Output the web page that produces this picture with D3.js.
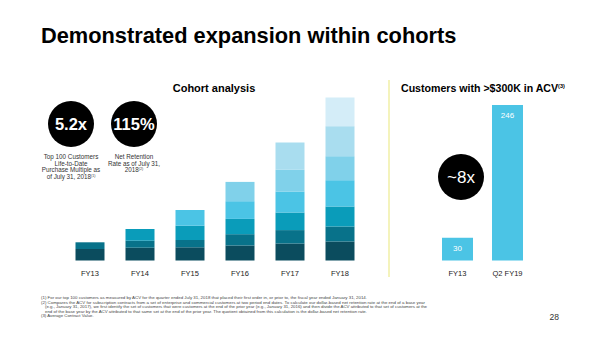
<!DOCTYPE html>
<html lang="en">
<head>
    <meta charset="UTF-8">
    <title>Demonstrated expansion within cohorts</title>
    <script src="https://d3js.org/d3.v7.min.js"></script>
    <style>
        body { margin: 0; background: #fff; }
        svg { font-family: "Liberation Sans", Arial, Helvetica, sans-serif; display: block; }
        .title { font-size: 21.8px; font-weight: bold; fill: #000; }
        .sub { font-size: 11px; font-weight: bold; fill: #000; }
        .tick-label { font-size: 7.5px; fill: #222; }
        .note { font-size: 6.3px; fill: #333; }
        .foot { font-size: 4.3px; fill: #444; }
    </style>
</head>
<body>
    <div id="chart"></div>
    <script>
        const width = 600, height = 337;

        // cohort analysis: one array per fiscal year bar, bottom layer first
        const cohortYears = ['FY13', 'FY14', 'FY15', 'FY16', 'FY17', 'FY18'];
        const fy13 = [11.5, 6.7];
        const fy14 = [12.8, 7, 11.7];
        const fy15 = [13.2, 7.3, 14.3, 15.7];
        const fy16 = [15, 11.3, 15.3, 17.7, 19.3];
        const fy17 = [17, 13.4, 17.6, 21, 21.7, 27.3];
        const fy18 = [19, 15, 20, 26.3, 24, 30, 28.7];
        const layerColors = ['#0b4c5e', '#08728a', '#0a9cba', '#4bc4e5', '#80d1ea', '#a9ddef', '#d4edf8'];

        // customers with >$300K ACV
        const acvPeriods = ['FY13', 'Q2 FY19'];
        const acvCustomers = [30, 246];

        const svg = d3.select('#chart').append('svg')
            .attr('width', width)
            .attr('height', height);

        svg.append('text')
            .attr('class', 'title')
            .attr('x', 41)
            .attr('y', 43)
            .text('Demonstrated expansion within cohorts');

        // ---- left: cohort analysis ----
        svg.append('text')
            .attr('class', 'sub')
            .attr('x', 214)
            .attr('y', 92)
            .attr('text-anchor', 'middle')
            .text('Cohort analysis');

        const x = d3.scaleBand()
            .domain(cohortYears)
            .range([65, 365])
            .paddingInner(0.42)
            .paddingOuter(0.21);

        const y = d3.scaleLinear()
            .domain([0, 163.5])
            .range([260.5, 97]);

        const cohortBars = [fy13, fy14, fy15, fy16, fy17, fy18];
        const cohortG = svg.append('g');
        cohortBars.forEach((vals, i) => {
            let acc = 0;
            vals.forEach((v, j) => {
                cohortG.append('rect')
                    .attr('x', x(cohortYears[i]))
                    .attr('width', x.bandwidth())
                    .attr('y', y(acc + v))
                    .attr('height', y(acc) - y(acc + v))
                    .attr('fill', layerColors[j]);
                acc += v;
            });
        });

        const xAxis = svg.append('g')
            .attr('transform', 'translate(0, 276)')
            .call(d3.axisBottom(x).tickSize(0).tickPadding(0));
        xAxis.select('.domain').remove();
        xAxis.selectAll('text').attr('class', 'tick-label').attr('font-family', null).attr('font-size', null).attr('dy', 0);

        // stat bubbles
        const bubbles = [
            { cx: 71, label: '5.2x', lines: ['Top 100 Customers', 'Life-to-Date', 'Purchase Multiple as', 'of July 31, 2018'], sup: '(1)' },
            { cx: 134, label: '115%', lines: ['Net Retention', 'Rate as of July 31,', '2018'], sup: '(2)' }
        ];
        bubbles.forEach(b => {
            svg.append('circle').attr('cx', b.cx).attr('cy', 124).attr('r', 23).attr('fill', '#000');
            svg.append('text')
                .attr('x', b.cx).attr('y', 130)
                .attr('text-anchor', 'middle')
                .attr('fill', '#fff')
                .attr('font-size', 16.5)
                .attr('font-weight', 'bold')
                .text(b.label);
            b.lines.forEach((l, k) => {
                const t = svg.append('text')
                    .attr('class', 'note')
                    .attr('x', b.cx).attr('y', 159 + k * 6.6)
                    .attr('text-anchor', 'middle')
                    .text(l);
                if (k === b.lines.length - 1) {
                    t.append('tspan').attr('font-size', 3.5).attr('dy', -2).text(b.sup);
                }
            });
        });

        // divider
        svg.append('line')
            .attr('x1', 389).attr('x2', 389)
            .attr('y1', 80).attr('y2', 277)
            .attr('stroke', '#f1efa6')
            .attr('stroke-width', 1.5);

        // ---- right: customers > $300K ----
        const subR = svg.append('text')
            .attr('class', 'sub')
            .attr('x', 401)
            .attr('y', 92)
            .attr('font-size', 10.6)
            .style('font-size', '10.6px')
            .text('Customers with >$300K in ACV');
        subR.append('tspan').attr('font-size', 5.5).style('font-size', '5.5px').attr('dy', -4).text('(3)');

        const x2 = d3.scaleBand()
            .domain(acvPeriods)
            .range([432.5, 532.5])
            .paddingInner(0.38)
            .paddingOuter(0.19);

        const y2 = d3.scaleLinear()
            .domain([-7, 246])
            .range([260.5, 105]);

        svg.append('g').selectAll('rect')
            .data(acvCustomers)
            .join('rect')
            .attr('x', (d, i) => x2(acvPeriods[i]))
            .attr('width', x2.bandwidth())
            .attr('y', d => y2(d))
            .attr('height', d => y2(-7) - y2(d))
            .attr('fill', '#4bc4e5');

        svg.append('g').selectAll('text')
            .data(acvCustomers)
            .join('text')
            .attr('x', (d, i) => x2(acvPeriods[i]) + x2.bandwidth() / 2)
            .attr('y', d => y2(d) + 13)
            .attr('text-anchor', 'middle')
            .attr('fill', '#fff')
            .attr('font-size', 8)
            .text(d => d);

        const xAxis2 = svg.append('g')
            .attr('transform', 'translate(0, 276)')
            .call(d3.axisBottom(x2).tickSize(0).tickPadding(0));
        xAxis2.select('.domain').remove();
        xAxis2.selectAll('text').attr('class', 'tick-label').attr('font-family', null).attr('font-size', null).attr('dy', 0);

        svg.append('circle').attr('cx', 461).attr('cy', 177).attr('r', 23).attr('fill', '#000');
        svg.append('text')
            .attr('x', 461).attr('y', 183)
            .attr('text-anchor', 'middle')
            .attr('fill', '#fff')
            .attr('font-size', 17)
            .text('~8x');

        // ---- footnotes ----
        const footnotes = [
            '(1) For our top 100 customers as measured by ACV for the quarter ended July 31, 2018 that placed their first order in, or prior to, the fiscal year ended January 31, 2014.',
            '(2) Compares the ACV for subscription contracts from a set of enterprise and commercial customers at two period end dates. To calculate our dollar-based net retention rate at the end of a base year',
            '(e.g., January 31, 2017), we first identify the set of customers that were customers at the end of the prior year (e.g., January 31, 2016) and then divide the ACV attributed to that set of customers at the',
            'end of the base year by the ACV attributed to that same set at the end of the prior year. The quotient obtained from this calculation is the dollar-based net retention rate.',
            '(3) Average Contract Value.'
        ];
        const footEnds = [367, 425, 427, 367, null];
        footnotes.forEach((f, i) => {
            const x0 = i === 2 || i === 3 ? 45 : 41;
            const t = svg.append('text')
                .attr('class', 'foot')
                .attr('x', x0)
                .attr('y', 299 + i * 4.5)
                .text(f);
            if (footEnds[i]) {
                t.attr('textLength', footEnds[i] - x0)
                    .attr('lengthAdjust', 'spacingAndGlyphs');
            }
        });

        svg.append('text')
            .attr('x', 559)
            .attr('y', 320)
            .attr('text-anchor', 'end')
            .attr('font-size', 8.5)
            .attr('fill', '#333')
            .text('28');
    </script>
</body>
</html>
